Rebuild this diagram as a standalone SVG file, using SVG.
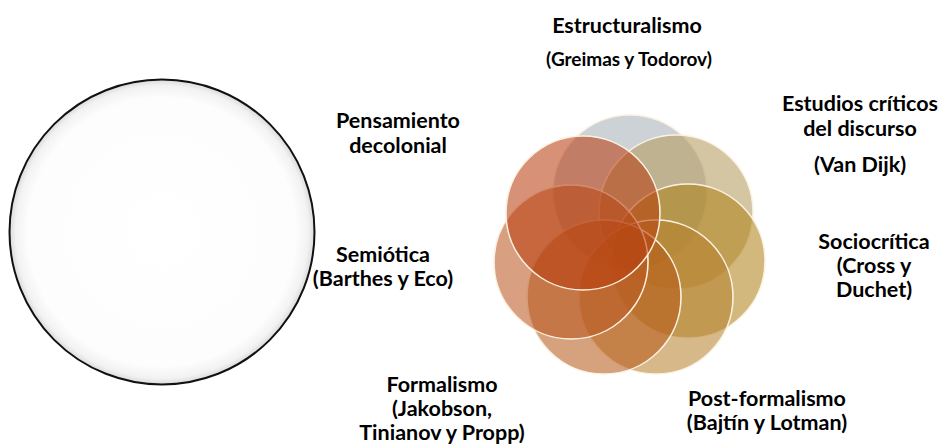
<svg xmlns="http://www.w3.org/2000/svg" width="946" height="447" viewBox="0 0 946 447">
<style>
.t{font-family:Lato,"Open Sans","Liberation Sans",sans-serif;font-weight:bold;font-size:21.5px;fill:#000;text-anchor:middle}
.s{font-size:19px}
.p{fill-opacity:0.56;stroke:#fbf1e2;stroke-width:1.6}
</style>
<defs>
<radialGradient id="bg" cx="0.5" cy="0.5" r="0.5">
<stop offset="0" stop-color="#ffffff"/>
<stop offset="0.88" stop-color="#fdfdfd"/>
<stop offset="0.96" stop-color="#f2f2f2"/>
<stop offset="1" stop-color="#dadada"/>
</radialGradient>
</defs>
<rect width="946" height="447" fill="#fff"/>
<g id="big-circle">
<circle cx="162" cy="232" r="152.5" fill="url(#bg)" stroke="#111" stroke-width="2"/>
</g>
<g id="flower">
<g id="estructuralismo"><circle class="p" cx="630" cy="192" r="77" fill="#a6aeb6"/></g>
<g id="estudios"><circle class="p" cx="676" cy="212" r="77" fill="#b3995b"/></g>
<g id="sociocritica"><circle class="p" cx="688" cy="261" r="77" fill="#ae8018"/></g>
<g id="postformalismo"><circle class="p" cx="656" cy="297" r="77" fill="#b5802c"/></g>
<g id="formalismo"><circle class="p" cx="604" cy="297" r="77" fill="#b55818"/></g>
<g id="semiotica"><circle class="p" cx="571" cy="262" r="77" fill="#ba561e"/></g>
<g id="decolonial"><circle class="p" cx="583" cy="213" r="77" fill="#b83a0c"/></g>
</g>
<g id="labels">
<g id="l-estructuralismo"><text class="t" x="627" y="33">Estructuralismo</text><text class="t s" x="629" y="66">(Greimas y Todorov)</text></g>
<g id="l-estudios"><text class="t" x="860" y="111">Estudios críticos</text><text class="t" x="860" y="136">del discurso</text><text class="t" x="860" y="172">(Van Dijk)</text></g>
<g id="l-socio"><text class="t" x="874" y="249">Sociocrítica</text><text class="t" x="874" y="273">(Cross y</text><text class="t" x="874" y="297">Duchet)</text></g>
<g id="l-post"><text class="t" x="767" y="406">Post-formalismo</text><text class="t" x="767" y="430">(Bajtín y Lotman)</text></g>
<g id="l-formal"><text class="t" x="442" y="392">Formalismo</text><text class="t" x="442" y="416">(Jakobson,</text><text class="t" x="442" y="440">Tinianov y Propp)</text></g>
<g id="l-semio"><text class="t" x="383" y="262">Semiótica</text><text class="t" x="383" y="286">(Barthes y Eco)</text></g>
<g id="l-decol"><text class="t" x="398" y="128">Pensamiento</text><text class="t" x="398" y="153">decolonial</text></g>
</g>
</svg>
